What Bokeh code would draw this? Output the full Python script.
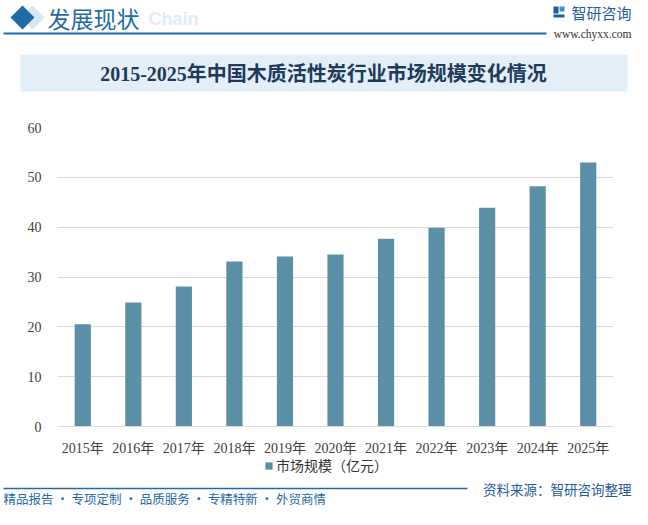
from bokeh.plotting import figure
from bokeh.models import Range1d, FactorRange, Legend, LegendItem, ColumnDataSource, FixedTicker
from bokeh.layouts import column
from bokeh.embed import file_html
from bokeh.resources import INLINE
from bokeh.core.properties import value

# ---------------- data ----------------
years = ["2015年", "2016年", "2017年", "2018年", "2019年", "2020年",
         "2021年", "2022年", "2023年", "2024年", "2025年"]
market_size = [20.5, 24.9, 28.1, 33.1, 34.1, 34.5, 37.7, 39.9, 43.9, 48.2, 53.0]
y_ticks = [0, 10, 20, 30, 40, 50, 60]
series_name = "市场规模（亿元）"
title_text = "2015-2025年中国木质活性炭行业市场规模变化情况"
header_text = "发展现状"
ghost_text = "Chain"
brand_text = "智研咨询"
site_text = "www.chyxx.com"
source_text = "资料来源：智研咨询整理"
footer_text = "精品报告 · 专项定制 · 品质服务 · 专精特新 · 外贸商情"

# ---------------- styles ----------------
W = 632
BAR = "#5B8FA8"
BLUE = "#1E6BA8"
DARK = "#1F3A5A"
GRID = "#D9D9D9"
SERIF = "'Liberation Serif', 'Noto Sans CJK SC', serif"
SANS = "'Noto Sans CJK SC', sans-serif"


def deco_fig(h):
    f = figure(width=W, height=h, x_range=Range1d(0, W), y_range=Range1d(h, 0),
               output_backend="svg", toolbar_location=None, min_border=0,
               x_axis_type=None, y_axis_type=None, frame_align=False)
    f.grid.visible = False
    f.outline_line_color = None
    return f


# ---------------- header ----------------
HA = 110
head = deco_fig(HA)
head.patch([20, 32, 44, 32], [17, 5, 17, 29], fill_color="#D6E6F2", line_color=None)
head.patch([10, 22, 34, 22], [17, 5, 17, 29], fill_color=BLUE, line_color=None)
head.text(x=[148], y=[18], text=[ghost_text], text_font=value("Liberation Sans"),
          text_font_style="bold", text_font_size="18px", text_color="#E0ECF6",
          text_baseline="middle", text_align="left")
head.text(x=[47], y=[17], text=[header_text], text_font=value(SANS),
          text_font_size="23px", text_color=BLUE, text_baseline="middle", text_align="left")
head.segment(x0=[3], y0=[33], x1=[546], y1=[33], line_color=BLUE, line_width=2)
# logo mark
head.quad(left=[553, 553, 559], right=[558, 564, 564], top=[6, 14, 6], bottom=[13, 17, 11],
          fill_color=["#1F5C99", "#1F5C99", "#3A8DD0"], line_color=None)
head.text(x=[631], y=[12], text=[brand_text], text_font=value(SANS),
          text_font_size="15px", text_color="#1F5C99", text_baseline="middle", text_align="right")
head.text(x=[631], y=[33], text=[site_text], text_font=value("Liberation Serif"),
          text_font_size="11.5px", text_color="#333333", text_baseline="middle", text_align="right")
head.quad(left=[20], right=[627], top=[54], bottom=[91], fill_color="#E2EFF8", line_color=None)
head.text(x=[323], y=[73], text=[title_text], text_font=value(SERIF),
          text_font_style="bold", text_font_size="20px", text_color=DARK,
          text_baseline="middle", text_align="center")

# ---------------- chart ----------------
HB = 366
TOP_PAD = 17          # frame top (value 60) sits 17px below the figure top
ZERO_PX = 299         # pixel distance from value 60 down to value 0
frame_h = HB - TOP_PAD
y_start = 60 - frame_h * 60 / ZERO_PX   # frame extends below 0 for labels + legend

src = ColumnDataSource(data=dict(year=years, size=market_size))
p = figure(width=W, height=HB, x_range=FactorRange(factors=years, range_padding=0),
           y_range=Range1d(y_start, 60), output_backend="svg", toolbar_location=None,
           min_border_top=TOP_PAD, min_border_left=57, min_border_right=19, min_border_bottom=0,
           frame_align=False)
r = p.vbar(x="year", top="size", width=0.32, source=src, fill_color=BAR, line_color=None)
p.outline_line_color = None
p.xgrid.grid_line_color = None
p.ygrid.grid_line_color = GRID
p.yaxis.ticker = FixedTicker(ticks=y_ticks)
p.yaxis.axis_line_color = None
p.yaxis.major_tick_line_color = None
p.yaxis.minor_tick_line_color = None
p.yaxis.major_label_standoff = 10
p.yaxis.major_label_text_font = SERIF
p.yaxis.major_label_text_font_size = "14px"
p.yaxis.major_label_text_color = "#404040"
p.xaxis.fixed_location = 0
p.xaxis.axis_line_color = GRID
p.xaxis.major_tick_line_color = None
p.xaxis.minor_tick_line_color = None
p.xaxis.major_label_standoff = 8
p.xaxis.major_label_text_font = SERIF
p.xaxis.major_label_text_font_size = "14px"
p.xaxis.major_label_text_color = "#404040"
legend = Legend(items=[LegendItem(label=series_name, renderers=[r])],
                orientation="horizontal", location=(207, 1),
                border_line_color=None, background_fill_alpha=0,
                label_text_font=SANS, label_text_font_size="14px",
                label_text_color="#333333", glyph_width=9, glyph_height=9,
                label_height=14, label_standoff=3, padding=0, margin=0, spacing=0)
p.add_layout(legend, "center")

# ---------------- footer ----------------
HC = 33
foot = deco_fig(HC)
foot.segment(x0=[3], y0=[12], x1=[467], y1=[12], line_color=BLUE, line_width=1.5)
foot.text(x=[631], y=[12], text=[source_text], text_font=value(SANS),
          text_font_size="13.5px", text_color="#1F5C99", text_baseline="middle", text_align="right")
foot.text(x=[3], y=[22], text=[footer_text], text_font=value(SANS),
          text_font_size="12.5px", text_color=BLUE, text_baseline="middle", text_align="left")

layout = column(head, p, foot, spacing=0)
open("out.html", "w").write(file_html(layout, INLINE))
